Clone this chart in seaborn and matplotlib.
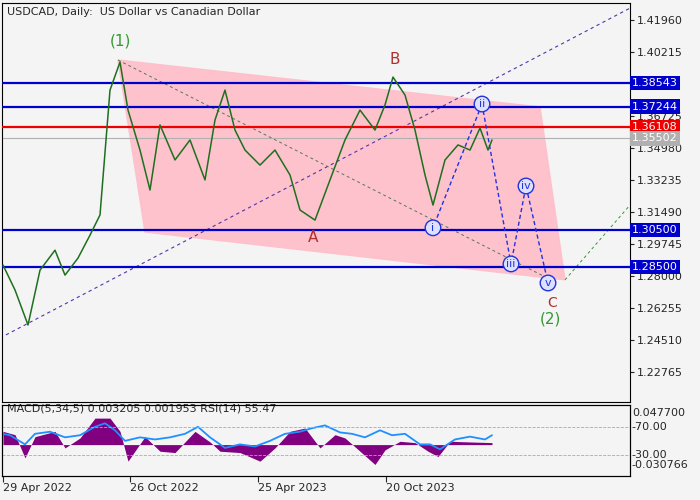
import numpy as np
import pandas as pd
import seaborn as sns
import matplotlib.pyplot as plt
from matplotlib.patches import Polygon

# price path (bar index, price)
bar_idx = [0, 12, 25, 37, 52, 62, 75, 87, 97, 107, 117, 125, 137, 147, 157, 172, 187, 202, 212, 222,
           232, 242, 257, 272, 287, 297, 312, 327, 342, 357, 372, 382, 390, 402, 412, 422, 430, 442, 455, 467, 477, 485, 489]
price = [1.2860, 1.2724, 1.2533, 1.2832, 1.2941, 1.2805, 1.2898, 1.3023, 1.3133, 1.3814, 1.3967, 1.3705,
         1.3487, 1.3269, 1.3624, 1.3433, 1.3542, 1.3324, 1.3651, 1.3814, 1.3596, 1.3487, 1.3405, 1.3487,
         1.3351, 1.3160, 1.3105, 1.3324, 1.3542, 1.3705, 1.3596, 1.3733, 1.3885, 1.3787, 1.3596, 1.3351,
         1.3187, 1.3433, 1.3515, 1.3487, 1.3607, 1.3487, 1.3542]

levels_blue = [1.38543, 1.37244, 1.30500, 1.28500]
level_red = 1.36108
level_last = 1.35502
yticks = [1.41960, 1.40215, 1.36725, 1.34980, 1.33235, 1.31490, 1.29745, 1.28000, 1.26255, 1.24510, 1.22765]
xtick_pos = [0, 127, 255, 383]
xtick_labels = ["29 Apr 2022", "26 Oct 2022", "25 Apr 2023", "20 Oct 2023"]

# channel and wave markings (bar index, price)
channel_x = [115, 537, 562, 142]
channel_y = [1.3978, 1.3722, 1.2779, 1.3040]
wave_x = [430, 479, 508, 523, 545]
wave_y = [1.3063, 1.3738, 1.2866, 1.3291, 1.2762]
wave_labels = ["i", "ii", "iii", "iv", "v"]

# indicator panel
rsi_x = [0, 7, 22, 32, 47, 62, 77, 92, 102, 112, 122, 137, 152, 167, 182, 195, 207, 222, 237, 252, 267, 282,
         297, 309, 322, 337, 349, 362, 377, 389, 402, 417, 427, 437, 452, 467, 482, 489]
rsi = [60, 58, 45, 60, 63, 55, 58, 70, 75, 65, 50, 55, 52, 55, 60, 70, 55, 40, 45, 42, 50, 60, 63, 68, 72,
       62, 60, 55, 65, 58, 60, 45, 45, 38, 52, 56, 52, 58]
macd_x = [0, 12, 22, 32, 52, 62, 77, 92, 107, 117, 125, 142, 157, 172, 192, 207, 217, 237, 257, 272, 287,
          302, 317, 332, 342, 357, 372, 382, 397, 412, 425, 435, 447, 467, 489]
macd = [0.02, 0.015, -0.02, 0.012, 0.02, -0.005, 0.01, 0.04, 0.04, 0.02, -0.025, 0.012, -0.01, -0.012, 0.02,
        0.004, -0.01, -0.012, -0.025, -0.005, 0.02, 0.025, -0.005, 0.015, 0.01, -0.01, -0.03, -0.008, 0.005,
        0.003, -0.01, -0.018, 0.005, 0.004, 0.003]

sns.set_style("white")
bg = "#f4f4f4"
fig = plt.figure(figsize=(7, 5), dpi=100, facecolor=bg)
ax = fig.add_axes([2/700, 1 - 402/500, 628/700, 399/500], facecolor=bg)
ax2 = fig.add_axes([2/700, 1 - 476/500, 628/700, 71/500], facecolor=bg)
xl = (-1, 627)

ax.add_patch(Polygon(list(zip(channel_x, channel_y)), closed=True, color="#ffc0cb", alpha=0.95, zorder=1))
df = pd.DataFrame({"bar": bar_idx, "price": price})
sns.lineplot(data=df, x="bar", y="price", ax=ax, color="#1f6f1f", lw=1.1, zorder=4)

for lv in levels_blue:
    ax.axhline(lv, color="#0000cc", lw=1.6, zorder=3)
ax.axhline(level_red, color="#ee0000", lw=1.6, zorder=3)
ax.axhline(level_last, color="#b0b0b0", lw=0.8, zorder=2)

ax.plot([-3, 627], [1.2462, 1.4261], ls=(0, (3, 3)), color="#5533aa", lw=0.8, zorder=2)
ax.plot([115, 552], [1.3978, 1.2768], ls=(0, (3, 3)), color="#557755", lw=0.7, zorder=2)
ax.plot([562, 627], [1.2779, 1.3187], ls=(0, (3, 3)), color="#339933", lw=0.7, zorder=2)
ax.plot(wave_x[1:], wave_y[1:], ls=(0, (3, 2)), color="#2233dd", lw=1, zorder=5)
ax.plot([479, 430], [1.3738, 1.3063], ls=(0, (3, 2)), color="#2233dd", lw=1, zorder=5)
for lx, ly, lab in zip(wave_x, wave_y, wave_labels):
    ax.text(lx, ly, lab, ha="center", va="center", color="#2233dd", fontsize=8, zorder=6,
            bbox=dict(boxstyle="circle,pad=0.25", fc="#dde0ff", ec="#2233dd", lw=1))

ax.text(117, 1.4057, "(1)", color="#339933", fontsize=11, ha="center")
ax.text(392, 1.3955, "B", color="#b03030", fontsize=11, ha="center")
ax.text(310, 1.2985, "A", color="#b03030", fontsize=11, ha="center")
ax.text(549, 1.2655, "C", color="#b03030", fontsize=10, ha="center", va="center")
ax.text(547, 1.2540, "(2)", color="#339933", fontsize=11, ha="center")
ax.text(4, 1.4225, "USDCAD, Daily:  US Dollar vs Canadian Dollar", fontsize=8)

ax.set_xlim(*xl)
ax.set_ylim(1.2113, 1.4289)
ax.yaxis.tick_right()
ax.set_yticks(yticks)
ax.set_yticklabels([f"{v:.5f}" for v in yticks], fontsize=8)
ax.set_xticks([])
ax.set_xlabel("")
ax.set_ylabel("")
ax.tick_params(axis="y", length=3, pad=2, right=True)

for lv, c in [(1.38543, "#0000cc"), (1.37244, "#0000cc"), (level_red, "#ee0000"), (level_last, "#b0b0b0"),
              (1.30500, "#0000cc"), (1.28500, "#0000cc")]:
    ax.text(1.003, lv, f"{lv:.5f}", transform=ax.get_yaxis_transform(), color="white", fontsize=8,
            va="center", ha="left", bbox=dict(fc=c, ec="none", pad=1.5), zorder=10, clip_on=False)

# indicator
ax2.fill_between(macd_x, 0, macd, color="#800080", lw=0)
ax2.set_ylim(-0.0474, 0.0598)
ax2.set_xlim(*xl)
ax3 = ax2.twinx()
ax3.plot(rsi_x, rsi, color="#1e90ff", lw=1.3)
ax3.axhline(70, color="#aaaaaa", ls="--", lw=0.6)
ax3.axhline(30, color="#aaaaaa", ls="--", lw=0.6)
ax3.set_ylim(0, 101)
ax3.set_yticks([])
ax2.yaxis.tick_right()
ax2.set_yticks([])
for v, t in [(0.0477, "0.047700"), (-0.030766, "-0.030766")]:
    ax2.text(1.003, v, t, transform=ax2.get_yaxis_transform(), fontsize=8, va="center")
for v, t in [(70, "70.00"), (30, "30.00")]:
    ax3.text(1.003, v, "-" + t, transform=ax3.get_yaxis_transform(), fontsize=8, va="center")
ax2.text(4, 0.05, "MACD(5,34,5) 0.003205 0.001953 RSI(14) 55.47", fontsize=8)
ax2.set_xticks(xtick_pos)
ax2.set_xticklabels(xtick_labels, fontsize=8, ha="left")
ax2.tick_params(axis="x", length=4, pad=1, bottom=True)

for a in (ax, ax2, ax3):
    for s in a.spines.values():
        s.set_color("black")
        s.set_linewidth(0.8)

fig.savefig("out.png", dpi=100, facecolor=bg)
